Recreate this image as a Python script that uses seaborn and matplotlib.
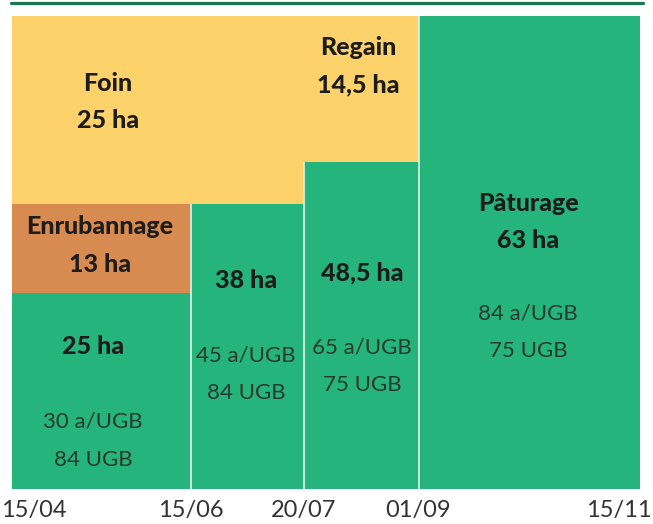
import matplotlib
matplotlib.use("Agg")
import matplotlib.pyplot as plt
import matplotlib.transforms as mtransforms
from matplotlib.lines import Line2D
import seaborn as sns

# ---------------- data ----------------
periods = ["15/04", "15/06", "20/07", "01/09", "15/11"]
period_widths = [178.5, 113.5, 114.5, 221.5]          # relative widths of the 4 periods
pasture_ha = [25, 38, 48.5, 63]                         # grazed area label (ha)
pasture_height = [26.1, 38.0, 43.6, 63.0]               # drawn height of grazing block
are_per_ugb = [30, 45, 65, 84]                          # a/UGB
ugb = [84, 84, 75, 75]                                  # UGB
wrap_name, wrap_ha, wrap_height = "Enrubannage", 13, 11.9
hay_name, hay_ha = "Foin", 25
regain_name, regain_ha = "Regain", 14.5
pasture_name = "Pâturage"
total_height = 63.0

GREEN = "#26B47D"
YELLOW = "#FED26A"
ORANGE = "#D88B50"
DARK = "#1C1C1C"
GREY = "#28392F"


def fmt(v):
    s = f"{v:g}".replace(".", ",")
    return f"{s} ha"


sns.set_theme(style="white")
plt.rcParams["font.family"] = ["Lato", "DejaVu Sans"]

fig = plt.figure(figsize=(6.53, 5.24), dpi=100)
W, H = 653, 524
ax = fig.add_axes([12 / W, (H - 489) / H, (640 - 12) / W, (489 - 16) / H])

lefts = [sum(period_widths[:i]) for i in range(len(period_widths))]
edges = lefts + [sum(period_widths)]

# yellow (foin / regain) above the grazing blocks in first 3 periods
ax.bar(lefts[:3], [total_height - h for h in pasture_height[:3]], width=period_widths[:3],
       bottom=pasture_height[:3], align="edge", color=YELLOW, linewidth=0)
# orange enrubannage in first period
ax.bar(lefts[0], wrap_height, width=period_widths[0], bottom=pasture_height[0],
       align="edge", color=ORANGE, linewidth=0)
# green grazing
ax.bar(lefts, pasture_height, width=period_widths, align="edge", color=GREEN, linewidth=0)

# light separators next to green blocks
for i in range(1, len(period_widths)):
    ax.vlines(edges[i], 0, pasture_height[i], color="#D6EFE2", linewidth=1.3, zorder=3)

ax.set_xlim(0, edges[-1])
ax.set_ylim(0, total_height)
sns.despine(ax=ax, left=True, bottom=True)
ax.set_yticks([])
ax.set_xticks(edges)
ax.set_xticklabels(periods)
ax.tick_params(axis="x", length=0, pad=8, labelsize=17, labelcolor="#333333")
labs = ax.get_xticklabels()
labs[0].set_transform(labs[0].get_transform() + mtransforms.ScaledTranslation(22 / 100, 0, fig.dpi_scale_trans))
labs[-1].set_transform(labs[-1].get_transform() + mtransforms.ScaledTranslation(-21 / 100, 0, fig.dpi_scale_trans))


def px(xp, yp):
    return xp - 12, (489 - yp) / 473 * total_height


texts = [
    (108, 84, hay_name, "bold"), (108, 121, fmt(hay_ha), "bold"),
    (358, 48, regain_name, "bold"), (358, 85, fmt(regain_ha), "bold"),
    (100, 226, wrap_name, "bold"), (100, 264, fmt(wrap_ha), "bold"),
    (528, 204, pasture_name, "bold"),
]
col_pos = [(93, 347, 422, 460), (246, 281, 356, 393), (362, 273, 348, 385), (528, 241, 314, 351)]
for i, (xc, y1, y2, y3) in enumerate(col_pos):
    texts.append((xc, y1, fmt(pasture_ha[i]), "bold"))
    texts.append((xc, y2, f"{are_per_ugb[i]} a/UGB", "normal"))
    texts.append((xc, y3, f"{ugb[i]} UGB", "normal"))

for xp, yp, s, w in texts:
    x, y = px(xp, yp)
    ax.text(x, y, s, ha="center", va="center", fontweight="black" if w == "bold" else "normal",
            fontsize=18 if w == "bold" else 16,
            color=DARK if w == "bold" else GREY, zorder=4)

# top rule
fig.add_artist(Line2D([11 / W, 643 / W], [1 - 2.7 / H, 1 - 2.7 / H], color="#1B7650",
                      linewidth=2.3, transform=fig.transFigure))

fig.savefig("out.png", dpi=100)
